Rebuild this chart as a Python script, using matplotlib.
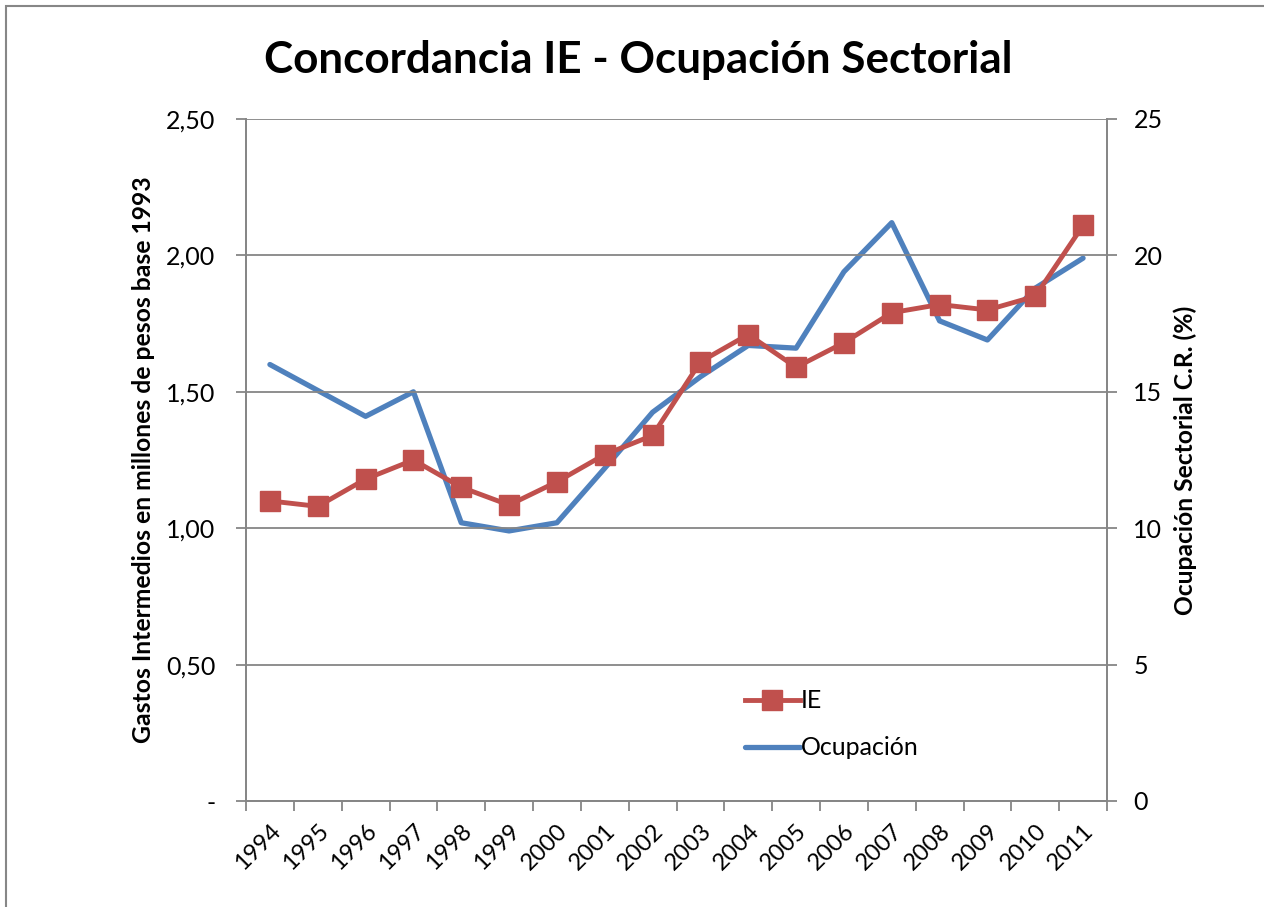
import matplotlib
matplotlib.use("Agg")
import matplotlib.pyplot as plt
from matplotlib.ticker import FixedLocator, FuncFormatter
from matplotlib.patches import Rectangle

years = ["1994", "1995", "1996", "1997", "1998", "1999", "2000", "2001", "2002",
         "2003", "2004", "2005", "2006", "2007", "2008", "2009", "2010", "2011"]
ie = [1.10, 1.08, 1.18, 1.25, 1.15, 1.085, 1.17, 1.27, 1.34,
      1.61, 1.71, 1.59, 1.68, 1.79, 1.82, 1.80, 1.85, 2.11]
ocupacion = [16.0, 15.05, 14.1, 15.0, 10.2, 9.9, 10.2, 12.2, 14.25,
             15.55, 16.7, 16.6, 19.4, 21.2, 17.6, 16.9, 18.8, 19.9]
left_ticks = [0, 0.5, 1.0, 1.5, 2.0, 2.5]
right_ticks = [0, 5, 10, 15, 20, 25]

plt.rcParams['font.family'] = ['Lato', 'DejaVu Sans']

RED = "#C0504D"
BLUE = "#4F81BD"
GRID = "#868686"

fig = plt.figure(figsize=(12.64, 9.07), dpi=100)
fig.patches.append(Rectangle((6/1264, -0.1), 1.2, 1 - 6/907 + 0.1,
                             transform=fig.transFigure, fill=False,
                             edgecolor="#878787", linewidth=1.5))

ax = fig.add_axes([246/1264, 1 - 801/907, (1107 - 246)/1264, (801 - 119)/907])
ax2 = ax.twinx()

x = list(range(len(years)))
ax.set_xlim(-0.5, len(years) - 0.5)
ax.set_ylim(0, 2.5)
ax2.set_ylim(0, 25)

ax.yaxis.set_major_locator(FixedLocator(left_ticks))
ax.yaxis.set_major_formatter(FuncFormatter(
    lambda v, p: "-" if abs(v) < 1e-9 else f"{v:.2f}".replace(".", ",")))
ax2.yaxis.set_major_locator(FixedLocator(right_ticks))
ax2.yaxis.set_major_formatter(FuncFormatter(lambda v, p: f"{v:.0f}"))

ax.grid(axis="y", color=GRID, linewidth=1.3)
ax.set_axisbelow(True)

for a in (ax, ax2):
    a.spines["top"].set_visible(False)
    for s in ("left", "right", "bottom"):
        a.spines[s].set_color(GRID)
        a.spines[s].set_linewidth(1.3)

ax.set_xticks(x)
ax.set_xticklabels(years, rotation=45, ha="right", va="top",
                   rotation_mode="anchor", fontsize=17)
ax.set_xticks([i - 0.5 for i in range(len(years) + 1)], minor=True)
ax.tick_params(axis="x", which="major", length=0, pad=14)
ax.tick_params(axis="x", which="minor", length=7, width=1.3, color=GRID, direction="out")
ax.tick_params(axis="y", length=7, width=1.3, color=GRID, labelsize=18, pad=15)
ax2.tick_params(axis="y", length=7, width=1.3, color=GRID, labelsize=18, pad=12)

l2, = ax2.plot(x, ocupacion, color=BLUE, linewidth=3.8, solid_joinstyle="round",
               solid_capstyle="round", label="Ocupación", zorder=2)
l1, = ax.plot(x, ie, color=RED, linewidth=3.5, marker="s", markersize=14.5,
              markeredgecolor=RED, markerfacecolor=RED, label="IE", zorder=3)
ax.set_zorder(ax2.get_zorder() + 1)
ax.patch.set_visible(False)

ax.set_ylabel("Gastos Intermedios en millones de pesos base 1993",
              fontsize=17.8, fontweight="bold", labelpad=8)
ax2.set_ylabel("Ocupación Sectorial C.R. (%)", fontsize=17.7,
               fontweight="bold", rotation=90, labelpad=8)

fig.text(638/1264, 1 - 60/907, "Concordancia IE - Ocupación Sectorial",
         ha="center", va="center", fontsize=31.7, fontweight="bold")

leg = ax.legend([l1, l2], ["IE", "Ocupación"], loc="upper left",
                bbox_to_anchor=(722/1264, 1 - 667/907), bbox_transform=fig.transFigure,
                frameon=False, fontsize=18, handlelength=2.2, handletextpad=0.05,
                labelspacing=0.95)

fig.savefig("out.png", dpi=100)
